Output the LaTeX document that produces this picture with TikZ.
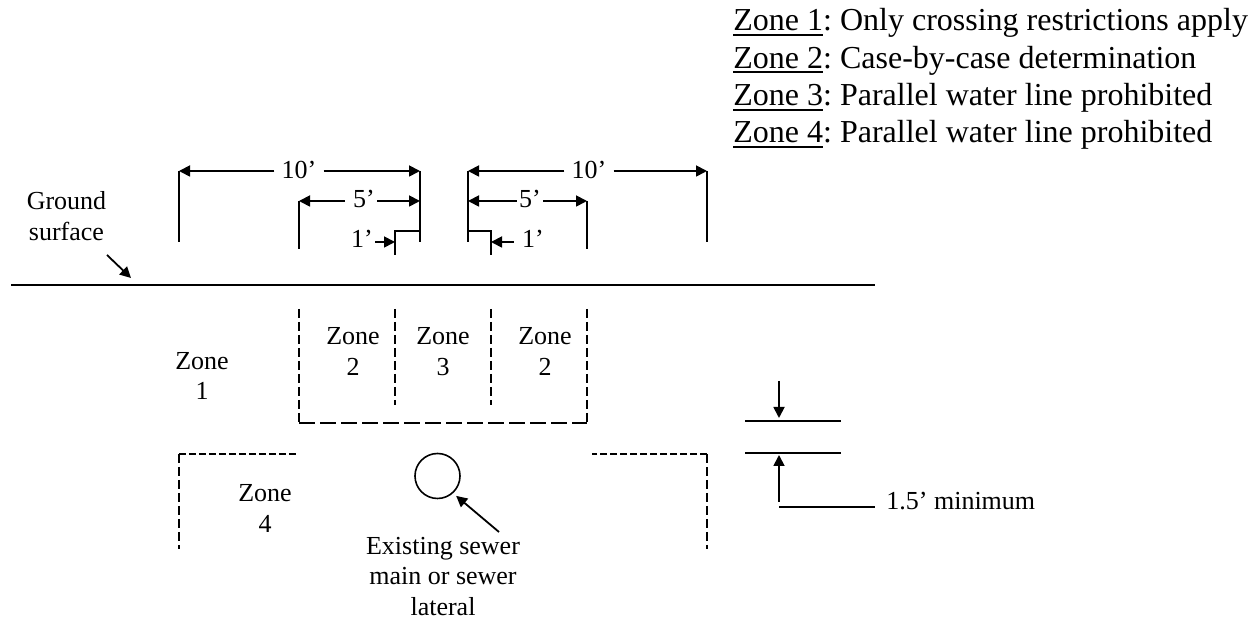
\documentclass[tikz,border=0pt]{standalone}
\usepackage{fontspec}
\setmainfont{Liberation Serif}
\usetikzlibrary{positioning,arrows.meta}
\newcommand{\zoneul}[1]{\setbox0\hbox{#1}\rlap{\rule[-2.7pt]{\wd0}{1pt}}\box0}
\frenchspacing
\tikzset{
    >={Triangle[length=5.5pt,width=5.5pt]},
    dimline/.style={line width=0.9pt},
    labeltext/.style={font=\fontsize{13}{15.35}\selectfont, align=center, inner sep=0pt},
    dimlabel/.style={labeltext, inner xsep=1pt},
    zonelong/.style={line width=0.9pt, dash pattern=on 8pt off 2.5pt},
    zoneshort/.style={line width=0.8pt, dash pattern=on 4.5pt off 2pt},
    zonefine/.style={line width=0.8pt, dash pattern=on 3.5pt off 1.5pt}
}
\begin{document}
\begin{tikzpicture}[x=0.5pt,y=-0.5pt]
    \useasboundingbox (0,0) rectangle (1250,619);
    % Legend
    \node (legend) [anchor=west, align=left, inner sep=0pt, font=\fontsize{16}{18.65}\selectfont] at (733,79)
        {\zoneul{Zone 1}: Only crossing restrictions apply\\
         \zoneul{Zone 2}: Case-by-case determination\\
         \zoneul{Zone 3}: Parallel water line prohibited\\
         \zoneul{Zone 4}: Parallel water line prohibited};
    % Dimension ends
    \coordinate (tenLa) at (179,171);
    \coordinate (tenLb) at (420,171);
    \coordinate (tenRa) at (468,171);
    \coordinate (tenRb) at (707,171);
    \coordinate (fiveLa) at (299,201);
    \coordinate (fiveLb) at (420,201);
    \coordinate (fiveRa) at (468,201);
    \coordinate (fiveRb) at (587,201);
    \coordinate (oneL) at (395,242);
    \coordinate (oneR) at (491,242);
    % Dimension labels
    \node (tenLlabel) [dimlabel, inner xsep=3.5pt] at (299,169.5) {10’};
    \node (tenRlabel) [dimlabel, inner xsep=3.5pt] at (589,169.5) {10’};
    \node (fiveLlabel) [dimlabel] at (364,199) {5’};
    \node (fiveRlabel) [dimlabel] at (530,199) {5’};
    \node (oneLlabel) [dimlabel] at (362,238.5) {1’};
    \node (oneRlabel) [dimlabel, inner xsep=4pt] at (533,238.5) {1’};
    % Arrows
    \draw [->,dimline] (tenLlabel.west |- tenLa) -- (tenLa);
    \draw [->,dimline] (tenLlabel.east |- tenLb) -- (tenLb);
    \draw [->,dimline] (tenRlabel.west |- tenRa) -- (tenRa);
    \draw [->,dimline] (tenRlabel.east |- tenRb) -- (tenRb);
    \draw [->,dimline,shorten <=3pt] (fiveLlabel.west |- fiveLa) -- (fiveLa);
    \draw [->,dimline] (fiveLlabel.east |- fiveLb) -- (fiveLb);
    \draw [->,dimline] (fiveRlabel.west |- fiveRa) -- (fiveRa);
    \draw [->,dimline] (fiveRlabel.east |- fiveRb) -- (fiveRb);
    \draw [->,dimline] (oneLlabel.east |- oneL) -- (oneL);
    \draw [->,dimline] (oneRlabel.west |- oneR) -- (oneR);
    % Verticals
    \draw [dimline] (tenLa) -- ++(0,71);
    \draw [dimline] (tenLb) -- ++(0,71);
    \draw [dimline] (tenRa) -- ++(0,71);
    \draw [dimline] (tenRb) -- ++(0,71);
    \draw [dimline] (fiveLa) -- ++(0,48);
    \draw [dimline] (fiveRb) -- ++(0,48);
    \draw [dimline] (oneL) ++(0,13) -- ++(0,-24) -- ++(25,0);
    \draw [dimline] (oneR) ++(0,13) -- ++(0,-24) -- ++(-23,0);
    % Ground
    \coordinate (groundL) at (11,285);
    \coordinate (groundR) at (875,285);
    \coordinate (groundtip) at (131,278);
    \coordinate (groundtail) at (107,255);
    \draw [line width=0.6pt] (groundL) -- (groundR);
    \node (ground) [labeltext] at (66.5,216) {Ground\\surface};
    \draw [->,dimline] (groundtail) -- (groundtip);
    % Zones
    \coordinate (boxLa) at (299,309);
    \coordinate (boxLb) at (299,423);
    \coordinate (boxRa) at (587,309);
    \coordinate (boxRb) at (587,423);
    \coordinate (midLa) at (395,309);
    \coordinate (midLb) at (395,405);
    \coordinate (midRa) at (491,309);
    \coordinate (midRb) at (491,405);
    \draw [zoneshort] (boxLa) -- (boxLb);
    \draw [zoneshort] (boxRa) -- (boxRb);
    \draw [zoneshort] (midLa) -- (midLb);
    \draw [zoneshort] (midRa) -- (midRb);
    \draw [zonelong] (boxLb) -- (boxRb);
    \coordinate (lowLa) at (179,549);
    \coordinate (lowLb) at (179,454);
    \coordinate (lowLc) at (299,454);
    \coordinate (lowRa) at (707,549);
    \coordinate (lowRb) at (707,454);
    \coordinate (lowRc) at (592,454);
    \draw [zoneshort] (lowLb) -- (lowLa);
    \draw [zonefine] (lowLb) -- (lowLc);
    \draw [zoneshort] (lowRb) -- (lowRa);
    \draw [zonefine] (lowRb) -- (lowRc);
    \node (zoneone) [labeltext] at (202,376) {Zone\\1};
    \node (zonetwoL) [labeltext] at (353,351.5) {Zone\\2};
    \node (zonethree) [labeltext] at (443,351.5) {Zone\\3};
    \node (zonetwoR) [labeltext] at (545,351.5) {Zone\\2};
    \node (zonefour) [labeltext] at (265,508.5) {Zone\\4};
    % Sewer
    \node (sewer) [circle, draw, line width=0.8pt, minimum size=22.5pt, inner sep=0pt] at (437.5,476) {};
    \node (existing) [labeltext] at (443,576.5) {Existing sewer\\main or sewer\\lateral};
    \coordinate (sewertail) at (499,532);
    \draw [->,dimline,shorten >=2pt] (sewertail) -- (sewer.-48);
    % Minimum separation
    \coordinate (sepTa) at (745,421);
    \coordinate (sepTb) at (841,421);
    \coordinate (sepBa) at (745,453);
    \coordinate (sepBb) at (841,453);
    \coordinate (downstart) at (779,381);
    \coordinate (downtip) at (779,418);
    \coordinate (upstart) at (779,502);
    \coordinate (uptip) at (779,455);
    \coordinate (leaderL) at (779,507);
    \draw [dimline] (sepTa) -- (sepTb);
    \draw [dimline] (sepBa) -- (sepBb);
    \draw [->,dimline] (downstart) -- (downtip);
    \draw [->,dimline] (upstart) -- (uptip);
    \node (minimum) [labeltext, anchor=west] at (886,501.5) {1.5’ minimum};
    \draw [dimline,shorten >=5.5pt] (leaderL) -- (leaderL -| minimum.west);
\end{tikzpicture}
\end{document}
